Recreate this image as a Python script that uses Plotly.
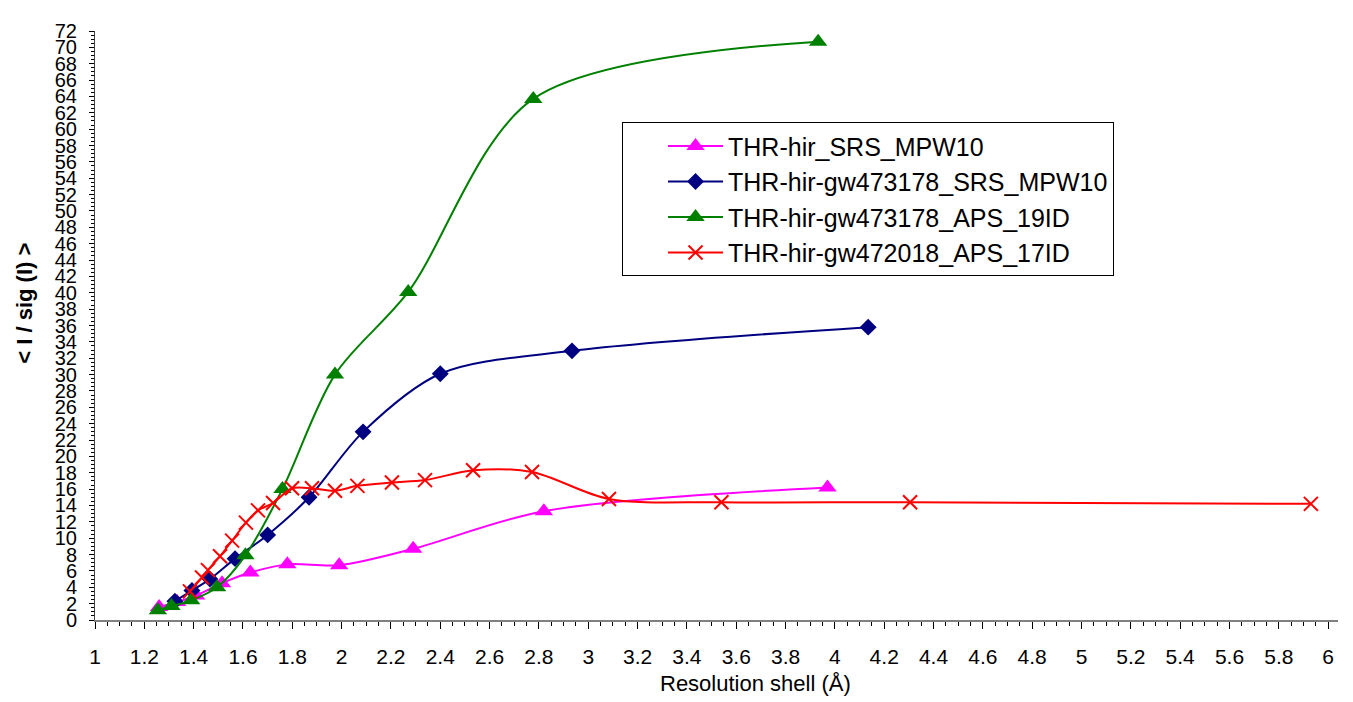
import plotly.graph_objects as go

# ---- data ----
srs_x = [1.26, 1.333, 1.41, 1.515, 1.63, 1.78, 1.99, 2.29, 2.82, 3.97]
srs_y = [1.6, 2.2, 3.0, 4.5, 5.8, 6.8, 6.7, 8.7, 13.3, 16.2]

gw_srs_x = [1.324, 1.393, 1.466, 1.568, 1.70, 1.868, 2.087, 2.40, 2.934, 4.135]
gw_srs_y = [2.3, 3.6, 5.0, 7.5, 10.4, 15.0, 23.0, 30.1, 32.9, 35.8]

aps19_x = [1.255, 1.31, 1.39, 1.495, 1.61, 1.76, 1.973, 2.27, 2.777, 3.932]
aps19_y = [1.2, 1.7, 2.4, 4.0, 7.9, 16.0, 30.0, 40.1, 63.7, 70.7]

aps17_x = [1.385, 1.434, 1.458, 1.507, 1.556, 1.612, 1.661, 1.722, 1.799, 1.88,
           1.973, 2.064, 2.204, 2.338, 2.533, 2.772, 3.084, 3.54, 4.305, 5.93]
aps17_y = [3.5, 5.2, 6.1, 7.8, 9.7, 11.9, 13.4, 14.3, 16.1, 16.1,
           15.8, 16.4, 16.8, 17.1, 18.3, 18.1, 14.8, 14.4, 14.4, 14.2]

names = ["THR-hir_SRS_MPW10", "THR-hir-gw473178_SRS_MPW10",
         "THR-hir-gw473178_APS_19ID", "THR-hir-gw472018_APS_17ID"]

FONT = "Liberation Sans, Arial, Helvetica, sans-serif"
SMOOTH = 0.9

fig = go.Figure()
fig.add_trace(go.Scatter(x=srs_x, y=srs_y, name=names[0], mode="lines+markers",
                         line=dict(color="#FF00FF", width=2, shape="spline", smoothing=SMOOTH),
                         marker=dict(symbol="triangle-up", size=16, color="#FF00FF")))
fig.add_trace(go.Scatter(x=gw_srs_x, y=gw_srs_y, name=names[1], mode="lines+markers",
                         line=dict(color="#000080", width=2, shape="spline", smoothing=SMOOTH),
                         marker=dict(symbol="diamond", size=13, color="#000080")))
fig.add_trace(go.Scatter(x=aps19_x, y=aps19_y, name=names[2], mode="lines+markers",
                         line=dict(color="#008000", width=2, shape="spline", smoothing=SMOOTH),
                         marker=dict(symbol="triangle-up", size=16, color="#008000")))
fig.add_trace(go.Scatter(x=aps17_x, y=aps17_y, name=names[3], mode="lines+markers",
                         line=dict(color="#FF0000", width=2, shape="spline", smoothing=SMOOTH),
                         marker=dict(symbol="x-thin", size=14, color="#FF0000",
                                     line=dict(color="#FF0000", width=2))))

# page body has an 8px margin, so the figure is sized/offset to compensate
fig.update_layout(
    width=1345, height=694,
    margin=dict(l=87, r=15, t=12, b=82),
    paper_bgcolor="white", plot_bgcolor="white",
    font=dict(family=FONT, color="black"),
    showlegend=True,
    legend=dict(x=0.424, y=0.845, xanchor="left", yanchor="top",
                bgcolor="white", bordercolor="black", borderwidth=1,
                font=dict(size=25, family=FONT), itemwidth=55, indentation=40,
                tracegroupgap=0),
    xaxis=dict(range=[1, 6.04], tick0=1, dtick=0.2, showgrid=False, zeroline=False,
               showline=True, linecolor="#808080", linewidth=1.5,
               ticks="outside", ticklen=7, tickcolor="black", tickwidth=1,
               tickfont=dict(size=21), ticklabelstandoff=10,
               minor=dict(dtick=0.05, ticks="outside", ticklen=4, tickcolor="black", showgrid=False)),
    yaxis=dict(range=[0, 72], tick0=0, dtick=2, showgrid=False, zeroline=False,
               showline=True, linecolor="#404040", linewidth=1,
               ticks="outside", ticklen=5, tickcolor="black", tickwidth=1,
               tickfont=dict(size=20), ticklabelstandoff=8,
               minor=dict(dtick=0.5, ticks="outside", ticklen=3, tickcolor="black", showgrid=False)),
    annotations=[
        dict(text="Resolution shell (Å)", xref="paper", yref="paper",
             x=0.531, y=-0.107, xanchor="center", yanchor="middle", showarrow=False,
             font=dict(size=22, family=FONT)),
        dict(text="<b>< I / sig (I) ></b>", xref="paper", yref="paper",
             x=-0.0563, y=0.537, xanchor="center", yanchor="middle", showarrow=False,
             textangle=-90, font=dict(size=22, family=FONT)),
    ],
)

fig.write_html("out.html")
